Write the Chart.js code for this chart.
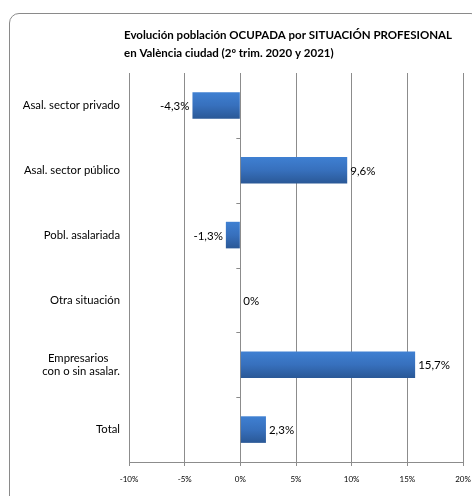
<!DOCTYPE html>
<html>
<head>
<meta charset="utf-8">
<script src="https://cdn.jsdelivr.net/npm/chart.js@4/dist/chart.umd.min.js"></script>
<style>
  html, body { margin: 0; padding: 0; background: #fff; overflow: hidden; }
  #wrap { position: relative; width: 472px; height: 496px; }
  #frame {
    position: absolute; left: 9px; top: 13px; width: 470px; height: 500px;
    border: 1px solid #8a8a8a; border-radius: 10px; pointer-events: none;
  }
  canvas { position: absolute; left: 0; top: 0; }
</style>
</head>
<body>
<div id="wrap">
  <canvas id="chart" width="472" height="496"></canvas>
  <div id="frame"></div>
</div>
<script>
'use strict';

let categories = ['Asal. sector privado', 'Asal. sector público', 'Pobl. asalariada', 'Otra situación', ['Empresarios    ', 'con o sin asalar.'], 'Total'];
let changes = [-4.3, 9.6, -1.3, 0, 15.7, 2.3];
let axisTicks = [-10, -5, 0, 5, 10, 15, 20];
let titleLines = ['Evolución población OCUPADA por SITUACIÓN PROFESIONAL', 'en València ciudad (2º trim. 2020 y 2021)'];

let barPct = 0.41;
let font = 'Lato, "Open Sans", sans-serif';

function fmt(v) {
  if (v === 0) return '0%';
  return v.toFixed(1).replace('.', ',') + '%';
}

function barGradient(context) {
  let chart = context.chart;
  let y = chart.scales.y;
  if (!chart.chartArea || !y) return '#3a72c0';
  let c = y.getPixelForValue(context.dataIndex);
  let h = (y.height / categories.length) * barPct / 2;
  let g = chart.ctx.createLinearGradient(0, c - h, 0, c + h);
  g.addColorStop(0, '#3f80d2');
  g.addColorStop(0.5, '#3770bd');
  g.addColorStop(1, '#2a5896');
  return g;
}

let titlePlugin = {
  id: 'leftTitle',
  afterDraw: function (chart) {
    let ctx = chart.ctx;
    ctx.save();
    ctx.fillStyle = '#000';
    ctx.font = 'bold 11.5px ' + font;
    ctx.textAlign = 'left';
    ctx.textBaseline = 'middle';
    ctx.fillText(titleLines[0], 124, 35);
    ctx.fillText(titleLines[1], 124, 53);
    ctx.restore();
  }
};

let labelPlugin = {
  id: 'valueLabels',
  afterDatasetsDraw: function (chart) {
    let ctx = chart.ctx;
    let meta = chart.getDatasetMeta(0);
    ctx.save();
    ctx.fillStyle = '#000';
    ctx.font = '11.5px ' + font;
    ctx.textBaseline = 'middle';
    meta.data.forEach(function (bar, i) {
      let v = changes[i];
      if (v < 0) {
        ctx.textAlign = 'right';
        ctx.fillText(fmt(v), bar.x - 3, bar.y + 1);
      } else {
        ctx.textAlign = 'left';
        ctx.fillText(fmt(v), bar.x + 3, bar.y + 1);
      }
    });
    // small tick marks on the zero axis between categories
    let x0 = chart.scales.x.getPixelForValue(0);
    let y = chart.scales.y;
    let step = y.height / categories.length;
    ctx.strokeStyle = '#8a8a8a';
    ctx.lineWidth = 1;
    for (let k = 1; k < categories.length; k++) {
      let yy = Math.round(y.top + k * step) + 0.5;
      ctx.beginPath();
      ctx.moveTo(x0 - 4, yy);
      ctx.lineTo(x0, yy);
      ctx.stroke();
    }
    ctx.restore();
  }
};

let ctx = document.getElementById('chart').getContext('2d');

new Chart(ctx, {
  type: 'bar',
  data: {
    labels: categories,
    datasets: [{
      data: changes,
      backgroundColor: barGradient,
      borderWidth: 0,
      categoryPercentage: 1,
      barPercentage: barPct
    }]
  },
  options: {
    indexAxis: 'y',
    responsive: false,
    animation: false,
    layout: { padding: { top: 73, right: 9, bottom: 0, left: 0 } },
    plugins: {
      legend: { display: false },
      tooltip: { enabled: false }
    },
    scales: {
      x: {
        min: -10,
        max: 20,
        afterBuildTicks: function (scale) {
          scale.ticks = axisTicks.map(function (v) { return { value: v }; });
        },
        afterFit: function (scale) {
          scale.height = 34;
          scale.paddingLeft = 0;
          scale.paddingRight = 0;
        },
        grid: { color: '#8c8c8c', tickLength: 4, drawTicks: true },
        border: { color: '#8c8c8c' },
        ticks: {
          color: '#000',
          padding: 9,
          maxRotation: 0,
          font: { family: font, size: 8 },
          callback: function (v) { return v + '%'; }
        }
      },
      y: {
        afterFit: function (scale) { scale.width = 129; },
        grid: { display: false, drawTicks: false },
        border: { display: false },
        ticks: {
          color: '#000',
          padding: 9,
          font: { family: font, size: 11.3 }
        }
      }
    }
  },
  plugins: [titlePlugin, labelPlugin]
});
</script>
</body>
</html>
